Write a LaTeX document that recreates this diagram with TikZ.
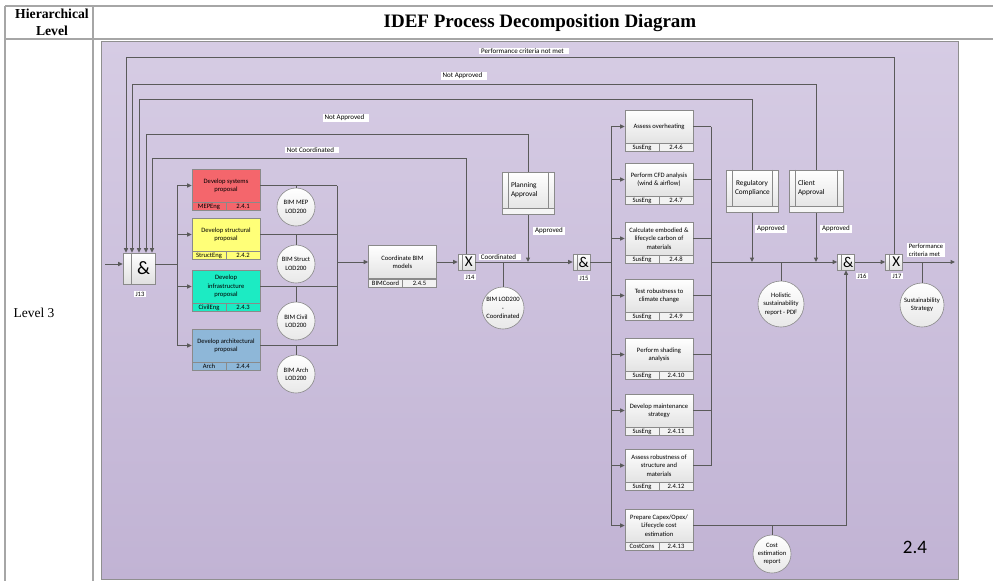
\documentclass[tikz,border=0pt]{standalone}
\usepackage{fontspec}
\setmainfont{Liberation Serif}
\newfontfamily\dgfont{Carlito}
\usetikzlibrary{arrows.meta}

\definecolor{lineC}{HTML}{5A5A5A}
\definecolor{boxC}{HTML}{8A8A8A}
\definecolor{tableC}{HTML}{A6A6A6}
\definecolor{panelT}{HTML}{D6CCE4}
\definecolor{panelB}{HTML}{C1B3D4}
\definecolor{panelE}{HTML}{8F8F8F}
\definecolor{mepred}{HTML}{F4666C}
\definecolor{structyel}{HTML}{FFFF78}
\definecolor{civilteal}{HTML}{1CEBC3}
\definecolor{archblue}{HTML}{8EB7D8}

\newcommand\dgsmall{\dgfont\fontsize{6.6}{8.3}\selectfont}
\newcommand\dglabel{\dgfont\fontsize{7}{8.5}\selectfont}

% process box: text area plus a two-cell band (role | number)
\newcommand\taskbox[6]{%
  \node[tasktext,#2T] (#1) at (#3) {#4};
  \node[taskband,#2B,anchor=north west] (#1-who) at (#1.south west) {#5};
  \node[taskband,#2B,anchor=north east] (#1-num) at (#1.south east) {#6};
}
% external reference box with side bars and a blank footer
\newcommand\extbox[6]{%
  \node[exttext,minimum width=#3,text width=#4,align=#5] (#1) at (#2) {#6};
  \node[extband,minimum width=#3,anchor=north] (#1-b) at (#1.south) {};
  \draw[boxC,line width=0.6pt] ([xshift=6.5pt]#1.north west) -- ([xshift=6.5pt]#1.south west);
  \draw[boxC,line width=0.6pt] ([xshift=-6.5pt]#1.north east) -- ([xshift=-6.5pt]#1.south east);
}

\begin{document}
\begin{tikzpicture}[x=1pt,y=-1pt,
  conn/.style={draw=lineC,line width=1pt},
  arr/.style={conn,-{Triangle[length=4.5pt,width=4pt]}},
  tasktext/.style={rectangle,draw=boxC,line width=0.6pt,minimum width=68pt,
    minimum height=33pt,inner sep=0.5pt,align=center,font=\dgsmall},
  taskband/.style={rectangle,draw=boxC,line width=0.6pt,minimum width=34pt,
    minimum height=8pt,inner sep=0pt,font=\dgsmall},
  greyT/.style={top color=white,bottom color=black!11},
  greyB/.style={fill=black!5},
  mepT/.style={fill=mepred},  mepB/.style={fill=mepred},
  strT/.style={fill=structyel}, strB/.style={fill=structyel},
  civT/.style={fill=civilteal}, civB/.style={fill=civilteal},
  arcT/.style={fill=archblue}, arcB/.style={fill=archblue},
  exttext/.style={rectangle,draw=boxC,line width=0.6pt,top color=white,
    bottom color=black!10,minimum height=36pt,inner xsep=9pt,inner ysep=1pt,
    font=\dgfont\fontsize{7.3}{8.7}\selectfont},
  extband/.style={rectangle,draw=boxC,line width=0.6pt,fill=black!4,
    minimum height=6pt,inner sep=0pt},
  datac/.style={circle,draw=boxC,line width=0.6pt,top color=white,
    bottom color=black!9,inner sep=0pt,align=center,font=\dgsmall},
  junc/.style={rectangle,draw=boxC,line width=0.6pt,top color=white,
    bottom color=black!12,minimum width=17pt,minimum height=16pt,inner sep=0pt,
    font=\dgfont\fontsize{15}{15}\selectfont},
  jlab/.style={fill=white,inner xsep=1.5pt,inner ysep=1pt,font=\dgsmall},
  flab/.style={fill=white,inner xsep=2pt,inner ysep=0.6pt,font=\dglabel},
]
\useasboundingbox (0,0) rectangle (993,581);

% ---------- table frame ----------
\draw[tableC,line width=1.3pt] (5,6) -- (993,6);
\draw[tableC,line width=1.3pt] (5,39) -- (993,39);
\draw[tableC,line width=1.3pt] (5,6) -- (5,581);
\draw[tableC,line width=1.3pt] (93,6) -- (93,581);
\node[font=\bfseries\fontsize{13.7}{17}\selectfont,align=center] (hdrL) at (52,22) {Hierarchical\\Level};
\node[font=\bfseries\fontsize{19}{21}\selectfont] (hdrT) at (540,23) {IDEF Process Decomposition Diagram};
\node[font=\fontsize{13.5}{15}\selectfont] (lvl) at (34,313) {Level 3};

% ---------- diagram panel ----------
\path[top color=panelT,bottom color=panelB,draw=panelE,line width=0.8pt] (101,41) rectangle (958,579);

% ---------- junctions ----------
\node[junc,minimum width=32pt,minimum height=31pt,font=\dgfont\fontsize{19}{19}\selectfont] (j13) at (139,268.5) {\hspace*{9pt}\&};
\draw[boxC,line width=0.6pt] ([xshift=9pt]j13.north west) -- ([xshift=9pt]j13.south west);
\node[junc] (j14) at (466.5,262) {\hspace*{4.5pt}X};
\draw[boxC,line width=0.6pt] ([xshift=4.5pt]j14.north west) -- ([xshift=4.5pt]j14.south west);
\node[junc] (j15) at (581.5,262) {\hspace*{4.5pt}\&};
\draw[boxC,line width=0.6pt] ([xshift=4.5pt]j15.north west) -- ([xshift=4.5pt]j15.south west);
\node[junc] (j16) at (846,262) {\hspace*{4.5pt}\&};
\draw[boxC,line width=0.6pt] ([xshift=4.5pt]j16.north west) -- ([xshift=4.5pt]j16.south west);
\node[junc] (j17) at (894,262) {\hspace*{4.5pt}X};
\draw[boxC,line width=0.6pt] ([xshift=4.5pt]j17.north west) -- ([xshift=4.5pt]j17.south west);

% ---------- proposal processes ----------
\taskbox{mep}{mep}{226,185.5}{Develop systems\\proposal}{MEPEng}{2.4.1}
\taskbox{str}{str}{226,234.5}{Develop structural\\proposal}{StructEng}{2.4.2}
\taskbox{civ}{civ}{226,286.5}{Develop\\infrastructure\\proposal}{CivilEng}{2.4.3}
\taskbox{arc}{arc}{226,345.5}{Develop architectural\\proposal}{Arch}{2.4.4}
\taskbox{crd}{grey}{402.5,262}{Coordinate BIM\\models}{BIMCoord}{2.4.5}

% ---------- sustainability processes ----------
\taskbox{oh}{grey}{659,126.5}{Assess overheating}{SusEng}{2.4.6}
\taskbox{cfd}{grey}{659,179.5}{Perform CFD analysis\\(wind \& airflow)}{SusEng}{2.4.7}
\taskbox{emb}{grey}{659,238.5}{Calculate embodied \&\\lifecycle carbon of\\materials}{SusEng}{2.4.8}
\taskbox{clim}{grey}{659,295.5}{Test robustness to\\climate change}{SusEng}{2.4.9}
\taskbox{shd}{grey}{659,354.5}{Perform shading\\analysis}{SusEng}{2.4.10}
\taskbox{mnt}{grey}{659,410.5}{Develop maintenance\\strategy}{SusEng}{2.4.11}
\taskbox{rob}{grey}{659,465.5}{Assess robustness of\\structure and\\materials}{SusEng}{2.4.12}
\taskbox{cap}{grey}{659,525.5}{Prepare Capex/Opex/\\Lifecycle cost\\estimation}{CostCons}{2.4.13}

% ---------- approvals ----------
\extbox{plan}{528,190}{52pt}{34pt}{left}{Planning\\Approval}
\extbox{reg}{752,188}{52pt}{34pt}{center}{Regulatory\\Compliance}
\extbox{cli}{816,188}{54pt}{36pt}{left}{Client\\Approval}

% ---------- data objects ----------
\node[datac,minimum size=38pt] (dmep) at (296,207) {BIM MEP\\LOD200};
\node[datac,minimum size=38pt] (dstr) at (296,264) {BIM Struct\\LOD200};
\node[datac,minimum size=38pt] (dciv) at (296,321) {BIM Civil\\LOD200};
\node[datac,minimum size=38pt] (darc) at (296,374) {BIM Arch\\LOD200};
\node[datac,minimum size=42pt] (dlod) at (503,308) {BIM LOD200\\-\\Coordinated};
\node[datac,minimum size=46pt] (dhol) at (781,304) {Holistic\\sustainability\\report - PDF};
\node[datac,minimum size=44pt] (dsus) at (922,305) {Sustainability\\Strategy};
\node[datac,minimum size=38pt] (dcost) at (772,554) {Cost\\estimation\\report};

% ---------- bus and route points ----------
\coordinate (in) at (105,264);
\coordinate (b1) at (177,264);
\coordinate (b2) at (337,262);
\coordinate (b3) at (611,262);
\coordinate (b4) at (711,262);
\coordinate (out) at (955,262);
\coordinate (f1) at (126,57);
\coordinate (f2) at (132,84);
\coordinate (f3) at (139,99);
\coordinate (f4) at (146,134);
\coordinate (f5) at (152,158);

% input and fan-out to the proposals
\draw[arr] (in) -- (in -| j13.west);
\draw[conn] (b1 -| j13.east) -- (b1);
\draw[conn] (mep.west -| b1) -- (arc.west -| b1);
\foreach \t in {mep,str,civ,arc}{\draw[arr] (\t.west -| b1) -- (\t.west);}
% proposals join into coordination
\foreach \t in {mep,str,civ,arc}{\draw[conn] (\t.east) -- (\t.east -| b2);}
\draw[conn] (mep.east -| b2) -- (arc.east -| b2);
\draw[arr] (b2) -- (crd.west);
\draw[conn] (mep.east -| dmep) -- (dmep.north);
\draw[conn] (str.east -| dstr) -- (dstr.north);
\draw[conn] (civ.east -| dciv) -- (dciv.north);
\draw[conn] (arc.east -| darc) -- (darc.north);

% coordination to planning
\draw[arr] (crd.east) -- (j14.west);
\draw[arr] (j14.east) -- (j15.west);
\draw[conn] (j14.east -| dlod) -- (dlod.north);
\draw[arr] (plan-b.south) -- (plan-b.south |- j15.west);

% fan-out to sustainability assessments
\draw[conn] (j15.east) -- (b3);
\draw[conn] (oh.west -| b3) -- (cap.west -| b3);
\foreach \t in {oh,cfd,emb,clim,shd,mnt,rob,cap}{\draw[arr] (\t.west -| b3) -- (\t.west);}
\foreach \t in {oh,cfd,emb,clim,shd,mnt,rob}{\draw[conn] (\t.east) -- (\t.east -| b4);}
\draw[conn] (oh.east -| b4) -- (rob.east -| b4);
\draw[arr] (b4) -- (j16.west);
\draw[arr] (reg-b.south) -- (reg-b.south |- j16.west);
\draw[arr] (cli-b.south) -- (cli-b.south |- j16.west);
\draw[conn] (j16.west -| dhol) -- (dhol.north);
\draw[arr] (cap.east) -| (j16.south);
\draw[conn] (cap.east -| dcost) -- (dcost.north);

% final gate and output
\draw[arr] (j16.east) -- (j17.west);
\draw[arr] (j17.east) -- (out);
\draw[conn] (j17.east -| dsus) -- (dsus.north);

% feedback loops back to J13
\draw[arr] (j17.north) |- (f1) -- (f1 |- j13.north);
\draw[arr] (cli.north) |- (f2) -- (f2 |- j13.north);
\draw[arr] (reg.north) |- (f3) -- (f3 |- j13.north);
\draw[arr] (plan.north) |- (f4) -- (f4 |- j13.north);
\draw[arr] (j14.north) |- (f5) -- (f5 |- j13.north);

% ---------- labels ----------
\node[flab] (lf1) at (524,51) {Performance criteria not met\hspace*{3pt}};
\node[flab] (lf2) at (464,76) {Not Approved\hspace*{3pt}};
\node[flab] (lf4) at (346,118) {Not Approved\hspace*{3pt}};
\node[flab] (lf5) at (312,150) {Not Coordinated\hspace*{3pt}};
\node[flab] (lcrd) at (500,257) {Coordinated\hspace*{3pt}};
\node[flab] (lap1) at (549,231) {Approved};
\node[flab] (lap2) at (771,229) {Approved};
\node[flab] (lap3) at (836,229) {Approved};
\node[flab,align=left,font=\dgsmall] (lmet) at (926,250) {Performance\\criteria met};
\node[jlab] (l13) at (140,294) {J13};
\node[jlab] (l14) at (470,277) {J14};
\node[jlab] (l15) at (584,278) {J15};
\node[jlab] (l16) at (862,276) {J16};
\node[jlab] (l17) at (897,276) {J17};
\node[font=\dgfont\fontsize{19}{19}\selectfont] (num) at (915,547) {2.4};
\end{tikzpicture}
\end{document}
